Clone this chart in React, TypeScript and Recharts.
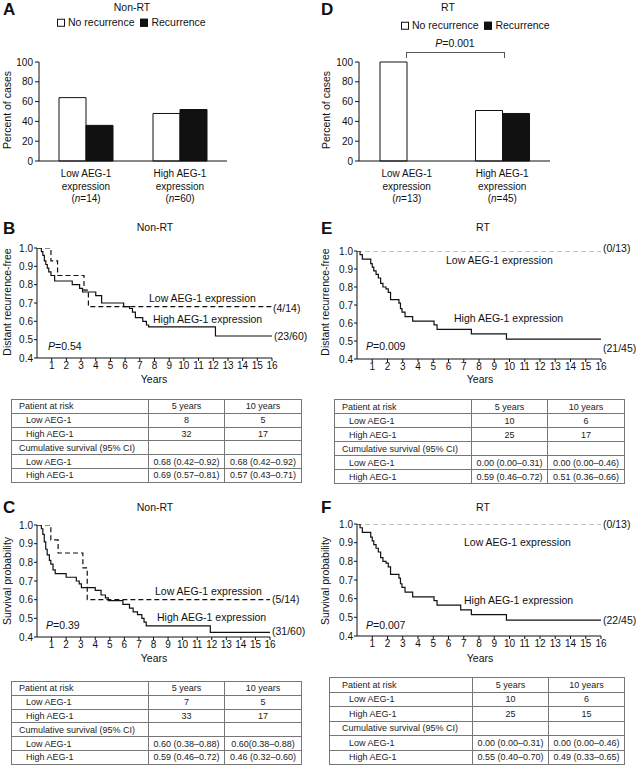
import React from "react";
import { BarChart, Bar, LineChart, Line, XAxis, YAxis } from "recharts";

const FONT = "'Liberation Sans', Arial, Helvetica, sans-serif";
const INK = "#111";

// bar panels (A: Non-RT, D: RT)
const groupLabels = ["Low AEG-1", "High AEG-1"];
const nonRtN = [14, 60];
const rtN = [13, 45];
const nonRtNoRec = [64, 48];
const nonRtRec = [36, 52];
const rtNoRec = [100, 51];
const rtRec = [0, 48];
const pctTicks = [0, 20, 40, 60, 80, 100];

// KM axes
const yearTicks = [1, 2, 3, 4, 5, 6, 7, 8, 9, 10, 11, 12, 13, 14, 15, 16];
const survTicks = [0.4, 0.5, 0.6, 0.7, 0.8, 0.9, 1.0];

// B: distant recurrence-free, Non-RT
const bHighT = [0, 0.3, 0.4, 0.5, 0.6, 0.7, 0.8, 0.95, 1.2, 2.4, 2.9, 3.1, 4.0, 4.4, 5.9, 6.3, 6.5, 6.7, 7.2, 7.45, 7.6, 12.15, 16];
const bHighS = [1.0, 0.98, 0.96, 0.93, 0.91, 0.89, 0.87, 0.85, 0.82, 0.8, 0.78, 0.76, 0.74, 0.7, 0.68, 0.67, 0.65, 0.62, 0.6, 0.58, 0.57, 0.52, 0.52];
const bLowT = [0, 0.95, 1.4, 3.2, 3.5, 16];
const bLowS = [1.0, 0.93, 0.85, 0.77, 0.68, 0.68];

// E: distant recurrence-free, RT
const eHighT = [0, 0.2, 0.35, 0.9, 1.0, 1.1, 1.25, 1.4, 1.55, 1.7, 1.9, 2.05, 2.2, 2.75, 2.85, 2.95, 3.15, 3.65, 5.05, 5.25, 7.5, 9.8, 16];
const eHighS = [1.0, 0.98, 0.955, 0.93, 0.91, 0.89, 0.87, 0.85, 0.82, 0.8, 0.79, 0.77, 0.73, 0.71, 0.68, 0.66, 0.635, 0.61, 0.59, 0.565, 0.54, 0.51, 0.51];
const eLowT = [0, 16];
const eLowS = [1.0, 1.0];

// C: survival, Non-RT
const cHighT = [0, 0.3, 0.4, 0.5, 0.6, 0.7, 0.85, 0.95, 1.1, 1.25, 2.0, 2.7, 2.9, 3.05, 4.0, 4.4, 4.7, 4.9, 5.9, 6.35, 6.6, 6.9, 7.2, 7.35, 7.5, 11.9, 16];
const cHighS = [1.0, 0.98, 0.95, 0.91, 0.87, 0.84, 0.81, 0.79, 0.76, 0.74, 0.72, 0.7, 0.685, 0.665, 0.65, 0.625, 0.61, 0.595, 0.575, 0.555, 0.535, 0.52, 0.5, 0.48, 0.46, 0.425, 0.425];
const cLowT = [0, 0.95, 1.45, 3.15, 3.45, 16];
const cLowS = [1.0, 0.92, 0.85, 0.77, 0.6, 0.6];

// F: survival, RT
const fHighT = [0, 0.2, 0.35, 0.9, 1.0, 1.1, 1.25, 1.4, 1.55, 1.7, 1.9, 2.05, 2.2, 2.75, 2.85, 2.95, 3.15, 3.65, 5.05, 5.25, 6.8, 7.5, 9.8, 16];
const fHighS = [1.0, 0.98, 0.955, 0.93, 0.91, 0.89, 0.87, 0.85, 0.82, 0.8, 0.79, 0.77, 0.73, 0.71, 0.68, 0.66, 0.635, 0.61, 0.59, 0.565, 0.54, 0.515, 0.485, 0.485];
const fLowT = [0, 16];
const fLowS = [1.0, 1.0];

// tables
const tableCols = ["Patient at risk", "5 years", "10 years"];
const bRiskLow = ["8", "5"];
const bRiskHigh = ["32", "17"];
const bCumLow = ["0.68 (0.42–0.92)", "0.68 (0.42–0.92)"];
const bCumHigh = ["0.69 (0.57–0.81)", "0.57 (0.43–0.71)"];
const eRiskLow = ["10", "6"];
const eRiskHigh = ["25", "17"];
const eCumLow = ["0.00 (0.00–0.31)", "0.00 (0.00–0.46)"];
const eCumHigh = ["0.59 (0.46–0.72)", "0.51 (0.36–0.66)"];
const cRiskLow = ["7", "5"];
const cRiskHigh = ["33", "17"];
const cCumLow = ["0.60 (0.38–0.88)", "0.60(0.38–0.88)"];
const cCumHigh = ["0.59 (0.46–0.72)", "0.46 (0.32–0.60)"];
const fRiskLow = ["10", "6"];
const fRiskHigh = ["25", "15"];
const fCumLow = ["0.00 (0.00–0.31)", "0.00 (0.00–0.46)"];
const fCumHigh = ["0.55 (0.40–0.70)", "0.49 (0.33–0.65)"];

const pts = (t: number[], s: number[]) => t.map((v, i) => ({ t: v, s: s[i] }));

// absolute text helper, (x,y) = left/center or center/center
function T({ x, y, size = 10.5, center = false, bold = false, children }: any) {
  return (
    <div
      style={{
        position: "absolute",
        left: x,
        top: y,
        transform: center ? "translate(-50%,-50%)" : "translateY(-50%)",
        fontSize: size,
        fontWeight: bold ? "bold" : "normal",
        lineHeight: 1,
        whiteSpace: "nowrap",
        color: INK,
      }}
    >
      {children}
    </div>
  );
}

function VLabel({ x, y, children }: any) {
  return (
    <div
      style={{
        position: "absolute",
        left: x,
        top: y,
        transform: "translate(-50%,-50%) rotate(-90deg)",
        fontSize: 10.5,
        lineHeight: 1,
        whiteSpace: "nowrap",
        color: INK,
      }}
    >
      {children}
    </div>
  );
}

function Legend({ x, y }: any) {
  const box = (fill: string) => (
    <span style={{ display: "inline-block", width: 6, height: 6, border: "1px solid #111", background: fill, marginRight: 3, verticalAlign: "middle" }} />
  );
  return (
    <T x={x} y={y}>
      {box("#fff")}No recurrence&nbsp;&nbsp;{box("#111")}Recurrence
    </T>
  );
}

const makeCatTick = (ns: number[]) => (props: any) => {
  const { x, y, index } = props;
  return (
    <g>
      <text x={x} y={y} textAnchor="middle" fontSize={10} fill={INK} fontFamily={FONT}>
        <tspan x={x} dy={16}>{groupLabels[index]}</tspan>
        <tspan x={x} dy={12.5}>expression</tspan>
        <tspan x={x} dy={12.5}>
          (<tspan fontStyle="italic">n</tspan>={ns[index]})
        </tspan>
      </text>
    </g>
  );
};

function Bars({ left, top, margin, noRec, rec, ns }: any) {
  const data = groupLabels.map((g, i) => ({ g, noRec: noRec[i], rec: rec[i] }));
  return (
    <div style={{ position: "absolute", left, top }}>
      <BarChart width={318} height={182} data={data} margin={margin} barGap={0} barSize={27}>
        <XAxis
          dataKey="g"
          stroke={INK}
          tickLine={false}
          tickSize={0}
          tickMargin={0}
          height={50}
          interval={0}
          tick={makeCatTick(ns)}
        />
        <YAxis
          domain={[0, 100]}
          ticks={pctTicks}
          width={27}
          stroke={INK}
          tickSize={4}
          tickMargin={2}
          tick={{ fontSize: 10, fill: INK, fontFamily: FONT }}
        />
        <Bar dataKey="noRec" fill="#fff" stroke={INK} strokeWidth={1} isAnimationActive={false} />
        <Bar dataKey="rec" fill="#111" stroke={INK} strokeWidth={1} isAnimationActive={false} />
      </BarChart>
    </div>
  );
}

function KM({ left, top, margin, high, low, lowColor }: any) {
  return (
    <div style={{ position: "absolute", left, top }}>
      <LineChart width={318} height={160} margin={margin}>
        <XAxis
          type="number"
          dataKey="t"
          domain={[0, 16]}
          ticks={yearTicks}
          interval={0}
          allowDataOverflow
          height={20}
          stroke={INK}
          tickSize={3}
          tickMargin={1}
          tick={{ fontSize: 10, fill: INK, fontFamily: FONT }}
        />
        <YAxis
          type="number"
          domain={[0.4, 1.0]}
          ticks={survTicks}
          interval={0}
          allowDataOverflow
          width={26}
          stroke={INK}
          tickSize={3}
          tickMargin={1}
          tickFormatter={(v: number) => v.toFixed(1)}
          tick={{ fontSize: 10, fill: INK, fontFamily: FONT }}
        />
        <Line data={low} dataKey="s" type="stepAfter" stroke={lowColor} strokeWidth={1.2} strokeDasharray="5 3" dot={false} isAnimationActive={false} />
        <Line data={high} dataKey="s" type="stepAfter" stroke={INK} strokeWidth={1.2} dot={false} isAnimationActive={false} />
      </LineChart>
    </div>
  );
}

function RiskTable({ left, top, widths, rowH, pad, riskLow, riskHigh, cumLow, cumHigh }: any) {
  const rows: any[] = [
    [tableCols[0], tableCols[1], tableCols[2], false],
    ["Low AEG-1", riskLow[0], riskLow[1], true],
    ["High AEG-1", riskHigh[0], riskHigh[1], true],
    ["Cumulative survival (95% CI)", "", "", false],
    ["Low AEG-1", cumLow[0], cumLow[1], true],
    ["High AEG-1", cumHigh[0], cumHigh[1], true],
  ];
  const cell: any = { border: "1px solid #777", padding: 0, height: rowH - 1, fontSize: 9, color: "#222", whiteSpace: "nowrap", overflow: "hidden" };
  return (
    <table style={{ position: "absolute", left, top, borderCollapse: "collapse", tableLayout: "fixed", width: widths[0] + widths[1] + widths[2], fontFamily: FONT }}>
      <colgroup>
        {widths.map((w: number, i: number) => <col key={i} style={{ width: w }} />)}
      </colgroup>
      <tbody>
        {rows.map((r, i) => (
          <tr key={i}>
            <td style={{ ...cell, paddingLeft: r[3] ? pad + 7 : pad }}>{r[0]}</td>
            <td style={{ ...cell, textAlign: "center" }}>{r[1]}</td>
            <td style={{ ...cell, textAlign: "center" }}>{r[2]}</td>
          </tr>
        ))}
      </tbody>
    </table>
  );
}

const P = ({ v }: any) => (
  <>
    <i>P</i>={v}
  </>
);

export default function App() {
  return (
    <div style={{ position: "absolute", left: 0, top: 0, width: 636, height: 765, background: "#fff", fontFamily: FONT, overflow: "hidden" }}>
      {/* A */}
      <T x={3} y={9} size={17} bold>A</T>
      <T x={132} y={7} center>Non-RT</T>
      <Legend x={57} y={22} />
      <VLabel x={7} y={110}>Percent of cases</VLabel>
      <Bars left={0} top={30} margin={{ top: 32, right: 91, bottom: 1, left: 12 }} noRec={nonRtNoRec} rec={nonRtRec} ns={nonRtN} />

      {/* D */}
      <T x={321} y={9} size={17} bold>D</T>
      <T x={448} y={7} center>RT</T>
      <Legend x={401} y={25} />
      <T x={455} y={43} center><P v="0.001" /></T>
      <div style={{ position: "absolute", left: 406, top: 52, width: 97, height: 5, borderTop: "1px solid #555", borderLeft: "1px solid #555", borderRight: "1px solid #555" }} />
      <VLabel x={326} y={110}>Percent of cases</VLabel>
      <Bars left={318} top={30} margin={{ top: 32, right: 86, bottom: 1, left: 14 }} noRec={rtNoRec} rec={rtRec} ns={rtN} />

      {/* B */}
      <T x={3} y={228} size={17} bold>B</T>
      <T x={155} y={227} center>Non-RT</T>
      <VLabel x={7} y={302}>Distant recurrence-free</VLabel>
      <KM left={0} top={235} margin={{ top: 13, right: 46, bottom: 17, left: 11 }} high={pts(bHighT, bHighS)} low={pts(bLowT, bLowS)} lowColor={INK} />
      <T x={149} y={298}>Low AEG-1 expression</T>
      <T x={273} y={308}>(4/14)</T>
      <T x={153} y={319}>High AEG-1 expression</T>
      <T x={274} y={336}>(23/60)</T>
      <T x={48} y={346}><P v="0.54" /></T>
      <T x={154} y={379} center>Years</T>
      <RiskTable left={11} top={399} widths={[137, 76, 77]} rowH={13.8} pad={7} riskLow={bRiskLow} riskHigh={bRiskHigh} cumLow={bCumLow} cumHigh={bCumHigh} />

      {/* E */}
      <T x={321} y={228} size={17} bold>E</T>
      <T x={483} y={227} center>RT</T>
      <VLabel x={325} y={302}>Distant recurrence-free</VLabel>
      <KM left={318} top={235} margin={{ top: 16, right: 35, bottom: 16, left: 13 }} high={pts(eHighT, eHighS)} low={pts(eLowT, eLowS)} lowColor="#888" />
      <T x={603} y={248}>(0/13)</T>
      <T x={446} y={260}>Low AEG-1 expression</T>
      <T x={454} y={318}>High AEG-1 expression</T>
      <T x={603} y={348}>(21/45)</T>
      <T x={366} y={346}><P v="0.009" /></T>
      <T x={480} y={379} center>Years</T>
      <RiskTable left={334} top={399} widths={[137, 76, 77]} rowH={14} pad={7} riskLow={eRiskLow} riskHigh={eRiskHigh} cumLow={eCumLow} cumHigh={eCumHigh} />

      {/* C */}
      <T x={3} y={507} size={17} bold>C</T>
      <T x={155} y={507} center>Non-RT</T>
      <VLabel x={7} y={581}>Survival probability</VLabel>
      <KM left={0} top={510} margin={{ top: 15, right: 48, bottom: 13, left: 11 }} high={pts(cHighT, cHighS)} low={pts(cLowT, cLowS)} lowColor={INK} />
      <T x={155} y={591}>Low AEG-1 expression</T>
      <T x={272} y={599}>(5/14)</T>
      <T x={157} y={617}>High AEG-1 expression</T>
      <T x={272} y={631}>(31/60)</T>
      <T x={46} y={625}><P v="0.39" /></T>
      <T x={154} y={658} center>Years</T>
      <RiskTable left={11} top={681} widths={[137, 76, 77]} rowH={13.8} pad={7} riskLow={cRiskLow} riskHigh={cRiskHigh} cumLow={cCumLow} cumHigh={cCumHigh} />

      {/* F */}
      <T x={321} y={507} size={17} bold>F</T>
      <T x={483} y={507} center>RT</T>
      <VLabel x={325} y={581}>Survival probability</VLabel>
      <KM left={318} top={510} margin={{ top: 14, right: 35, bottom: 14, left: 13 }} high={pts(fHighT, fHighS)} low={pts(fLowT, fLowS)} lowColor="#888" />
      <T x={603} y={524}>(0/13)</T>
      <T x={464} y={542}>Low AEG-1 expression</T>
      <T x={464} y={600}>High AEG-1 expression</T>
      <T x={603} y={620}>(22/45)</T>
      <T x={366} y={625}><P v="0.007" /></T>
      <T x={480} y={658} center>Years</T>
      <RiskTable left={329} top={677} widths={[143, 76, 76]} rowH={14.5} pad={12} riskLow={fRiskLow} riskHigh={fRiskHigh} cumLow={fCumLow} cumHigh={fCumHigh} />
    </div>
  );
}
